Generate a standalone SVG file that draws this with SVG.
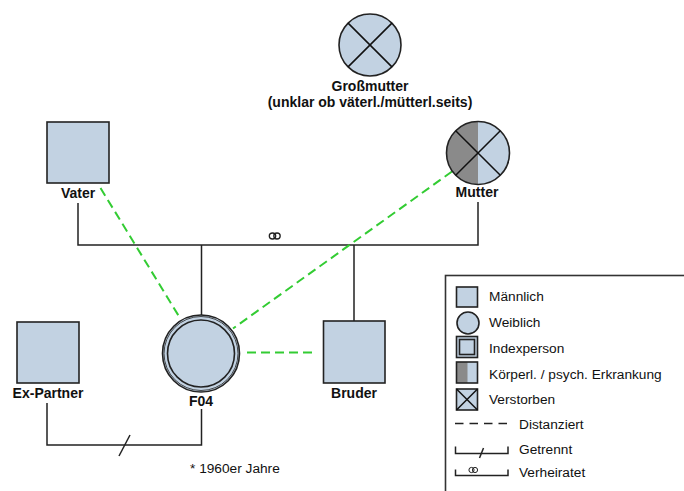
<svg xmlns="http://www.w3.org/2000/svg" width="684" height="491" viewBox="0 0 684 491">
<style>
.p{fill:#c2d2e2;stroke:#222;stroke-width:1.6}
.ln{fill:none;stroke:#222;stroke-width:1.5}
.x{stroke:#111;stroke-width:1.5}
.g{fill:none;stroke:#33cc33;stroke-width:2;stroke-dasharray:9,5}
.lbl{font-family:"Liberation Sans",Arial,sans-serif;font-size:14px;font-weight:bold;fill:#111;text-anchor:middle}
.t{font-family:"Liberation Sans",Arial,sans-serif;font-size:13.7px;fill:#111}
</style>
<rect width="684" height="491" fill="#fff"/>
<g id="connectors">
<path class="ln" d="M78,203V245H478V202M201.5,245V315M354,245V321"/>
<ellipse cx="272.5" cy="236" rx="3.2" ry="3" fill="none" stroke="#222" stroke-width="1.3"/>
<ellipse cx="277" cy="236" rx="3.2" ry="3" fill="none" stroke="#222" stroke-width="1.3"/>
<path class="ln" d="M47,403V445H201.5V409"/>
<path class="ln" d="M119,456L130,435"/>
<path class="g" d="M100.5,188L180,318"/>
<path class="g" d="M452,171.5L233,328.5"/>
<path class="g" d="M247,352.5H317"/>
</g>
<g id="grossmutter">
<circle class="p" cx="370" cy="45" r="31"/>
<path class="x" d="M348.1,23.1L391.9,66.9M391.9,23.1L348.1,66.9"/>
<text class="lbl" x="370" y="91">Großmutter</text>
<text class="lbl" x="370" y="107">(unklar ob väterl./mütterl.seits)</text>
</g>
<g id="vater">
<rect class="p" x="47" y="122" width="62" height="61"/>
<text class="lbl" x="78" y="198">Vater</text>
</g>
<g id="mutter">
<circle cx="478" cy="153" r="31.5" fill="#c2d2e2"/>
<path d="M478,121.5A31.5,31.5 0 0 0 478,184.5Z" fill="#8a8a8a"/>
<circle cx="478" cy="153" r="31.5" fill="none" stroke="#222" stroke-width="1.6"/>
<path class="x" d="M455.7,130.7L500.3,175.3M500.3,130.7L455.7,175.3"/>
<text class="lbl" x="477" y="197">Mutter</text>
</g>
<g id="expartner">
<rect class="p" x="17" y="322" width="62" height="61"/>
<text class="lbl" x="48" y="398">Ex-Partner</text>
</g>
<g id="f04">
<circle class="p" cx="201" cy="353.5" r="38.5"/>
<circle cx="201" cy="353.5" r="37" fill="none" stroke="#222" stroke-width="0.8"/>
<circle class="p" cx="201" cy="353.5" r="33.5"/>
<text class="lbl" x="201" y="406">F04</text>
</g>
<g id="bruder">
<rect class="p" x="323.5" y="321" width="61.5" height="62"/>
<text class="lbl" x="354" y="398">Bruder</text>
</g>
<text class="t" x="190" y="473" font-size="14">* 1960er Jahre</text>
<g id="legend">
<rect x="445.5" y="275.5" width="260" height="230" fill="#fff" stroke="#333" stroke-width="1.6"/>
<rect class="p" x="456.5" y="287" width="21" height="20"/>
<text class="t" x="489" y="301">Männlich</text>
<circle class="p" cx="468" cy="323" r="11"/>
<text class="t" x="489" y="327">Weiblich</text>
<rect class="p" x="456.5" y="336.5" width="21" height="21"/>
<rect class="p" x="459.5" y="339.5" width="15" height="15"/>
<text class="t" x="489" y="353">Indexperson</text>
<rect x="456.5" y="362" width="21" height="21" fill="#c2d2e2"/>
<rect x="456.5" y="362" width="11" height="21" fill="#8a8a8a"/>
<rect x="456.5" y="362" width="21" height="21" fill="none" stroke="#222" stroke-width="1.6"/>
<text class="t" x="489" y="379">Körperl. / psych. Erkrankung</text>
<rect class="p" x="456.5" y="389" width="21" height="21"/>
<path class="x" d="M456.5,389L477.5,410M477.5,389L456.5,410"/>
<text class="t" x="489" y="404">Verstorben</text>
<path d="M455,423.5H512" stroke="#222" stroke-width="1.3" stroke-dasharray="8.5,6"/>
<text class="t" x="519" y="429">Distanziert</text>
<path class="ln" d="M455.5,446.5V453.5H508V446.5" stroke-width="1.3"/>
<path class="ln" d="M479.5,458L483.5,448" stroke-width="1.3"/>
<text class="t" x="519" y="454">Getrennt</text>
<path class="ln" d="M455.5,469.5V475.5H508V469.5" stroke-width="1.3"/>
<ellipse cx="471.5" cy="470" rx="2.6" ry="2.6" fill="none" stroke="#222" stroke-width="1"/>
<ellipse cx="475" cy="470" rx="2.6" ry="2.6" fill="none" stroke="#222" stroke-width="1"/>
<text class="t" x="519" y="477">Verheiratet</text>
</g>
</svg>
